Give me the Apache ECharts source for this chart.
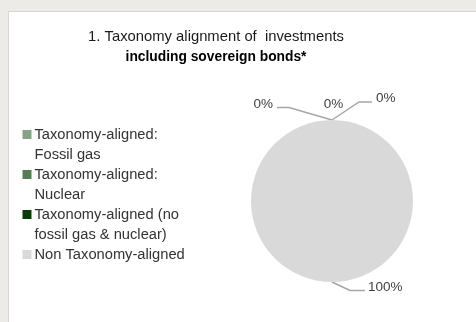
<!DOCTYPE html>
<html>
<head>
<meta charset="utf-8">
<script src="https://cdn.jsdelivr.net/npm/echarts@6/dist/echarts.min.js"></script>
<style>
  html, body { margin: 0; padding: 0; background: #ecebe7; }
  #chart { width: 476px; height: 322px; }
</style>
</head>
<body>
<div id="chart"></div>
<script>
// Portfolio split by EU taxonomy alignment (share of investments, %)
const categories = [
  'Taxonomy-aligned:\nFossil gas',
  'Taxonomy-aligned:\nNuclear',
  'Taxonomy-aligned (no\nfossil gas & nuclear)',
  'Non Taxonomy-aligned'
];
const shares = [0, 0, 0, 100];
const colors = ['#87a285', '#567c56', '#0a3a0a', '#d9d9d9'];

const titleLine1 = '1. Taxonomy alignment of  investments';
const titleLine2 = 'including sovereign bonds*';

// pie geometry (px)
const PIE_CX = 332;
const PIE_CY = 201;
const PIE_R = 81;

// where each percentage label sits around the pie, relative to its top / bottom edge
const labelPlacement = [
  { edge: -1, lx: -59, ly: -15.5, align: 'right', line: [[0, 0], [-43, -12.5], [-55, -12.5]] },
  { edge: -1, lx: 1.5, ly: -15.5, align: 'center', line: null },
  { edge: -1, lx: 44, ly: -22, align: 'left', line: [[0, 0], [27, -18], [40, -18]] },
  { edge: 1, lx: 36, ly: 5.5, align: 'left', line: [[0, 0], [18, 8.5], [33, 8.5]] }
];

// legend entries are padded to three lines so the marker lines up with the first text line
function legendText(name) {
  const lines = name.split('\n');
  return lines.length > 1 ? '\n' + lines.join('\n') : '\n' + name + '\n';
}

const chart = echarts.init(document.getElementById('chart'), null, { renderer: 'canvas' });

const pieData = categories.map((name, i) => ({
  name: name,
  value: shares[i],
  itemStyle: { color: colors[i] },
  labelLine: { show: labelPlacement[i].line !== null }
}));

chart.setOption({
  animation: false,
  backgroundColor: '#ecebe7',
  graphic: [{
    type: 'rect',
    shape: { x: 8.5, y: 11.5, width: 480, height: 320 },
    style: { fill: '#ffffff', stroke: '#d6d6d6', lineWidth: 1 },
    z: -10,
    silent: true
  }],
  title: {
    text: titleLine1,
    subtext: titleLine2,
    left: 216,
    top: 28,
    padding: 0,
    itemGap: 2,
    textAlign: 'center',
    textStyle: {
      fontFamily: 'Liberation Sans',
      fontSize: 14.8,
      fontWeight: 'normal',
      color: '#1a1a1a',
      lineHeight: 18
    },
    subtextStyle: {
      fontFamily: 'Liberation Sans',
      fontSize: 13.8,
      fontWeight: 'bold',
      color: '#000000',
      lineHeight: 18
    }
  },
  legend: {
    orient: 'vertical',
    left: 22.5,
    top: 104.5,
    padding: 0,
    itemWidth: 9,
    itemHeight: 9,
    itemGap: -20,
    itemStyle: { borderWidth: 0 },
    icon: 'rect',
    selectedMode: false,
    formatter: legendText,
    textStyle: {
      fontFamily: 'Liberation Sans',
      fontSize: 14.7,
      color: '#333333',
      lineHeight: 20,
      padding: [0, 0, 0, -2]
    },
    data: categories
  },
  series: [{
    type: 'pie',
    center: [PIE_CX, PIE_CY],
    radius: PIE_R,
    startAngle: 90,
    clockwise: true,
    avoidLabelOverlap: false,
    silent: true,
    data: pieData,
    label: {
      show: true,
      position: 'outside',
      fontFamily: 'Liberation Sans',
      fontSize: 13.5,
      color: '#404040',
      formatter: p => Math.round(p.percent) + '%'
    },
    labelLine: {
      show: true,
      lineStyle: { color: '#a6a6a6', width: 1.5 }
    },
    labelLayout: function (params) {
      const pl = labelPlacement[params.dataIndex];
      const ax = PIE_CX;
      const ay = PIE_CY + pl.edge * PIE_R;
      const out = {
        x: ax + pl.lx,
        y: ay + pl.ly,
        align: pl.align,
        verticalAlign: 'middle'
      };
      if (pl.line) {
        out.labelLinePoints = pl.line.map(pt => [ax + pt[0], ay + pt[1]]);
      }
      return out;
    }
  }]
});
</script>
</body>
</html>
